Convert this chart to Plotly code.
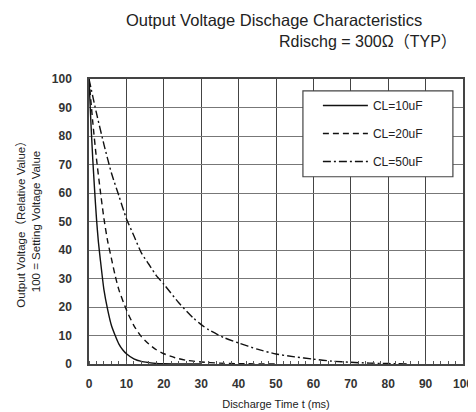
import plotly.graph_objects as go

# ---- data ----
t_10uF = [0, 0.5, 1, 1.5, 2, 2.5, 3, 4, 5, 6, 7, 8, 9, 10, 12, 14, 16, 18, 20, 25, 30]
v_10uF = [100, 85, 72, 61, 51, 43, 37, 26, 19, 13.5, 10, 7, 5, 3.6, 1.8, 0.9, 0.5, 0.2, 0.1, 0, 0]

t_20uF = [0, 1, 2, 3, 4, 5, 6, 7, 8, 10, 12, 14, 16, 18, 20, 23, 26, 30, 35, 40, 50]
v_20uF = [100, 85, 72, 61, 51, 43, 37, 31, 26, 19, 13.5, 9.6, 7, 5, 3.6, 2.2, 1.3, 0.7, 0.3, 0.1, 0]

t_50uF = [0, 2, 4, 6, 8, 10, 12, 14, 16, 18, 20, 24, 28, 30, 32, 36, 40, 45, 50, 55, 60, 65, 70, 75, 80, 85]
v_50uF = [100, 88, 77, 67, 59, 51, 45, 39, 35, 31, 28, 21.5, 16, 13.8, 12, 9.3, 7.4, 5.2, 3.5, 2.5, 1.7, 1.0, 0.6, 0.3, 0.15, 0]

series_names = ["CL=10uF", "CL=20uF", "CL=50uF"]
series_dash = ["solid", "6px,4px", "8px,3px,2px,3px"]

x_ticks = list(range(0, 101, 10))
y_ticks = list(range(0, 101, 10))

title_line1 = "Output Voltage Dischage Characteristics"
title_line2 = "Rdischg = 300Ω（TYP）"
x_title = "Discharge Time t (ms)"
y_title = "Output Voltage（Relative Value）<br>100 = Setting Voltage Value"

FONT = "Liberation Sans, Arial, Noto Sans CJK JP, sans-serif"

fig = go.Figure()
for i, (tx, vy) in enumerate([(t_10uF, v_10uF), (t_20uF, v_20uF), (t_50uF, v_50uF)]):
    fig.add_trace(go.Scatter(
        x=tx, y=vy, mode="lines", name=series_names[i], legendgroup=str(i),
        line=dict(color="#111111", width=1.4, dash=series_dash[i], shape="spline", smoothing=0.6),
    ))

# the page has an 8px body margin, so the figure is 8px smaller than the window
fig.update_layout(
    width=468, height=404,
    margin=dict(l=81, r=13, t=71, b=47.5),
    paper_bgcolor="white", plot_bgcolor="white",
    font=dict(family=FONT, color="#222222"),
    showlegend=True,
    legend=dict(
        x=0.612, y=0.958, xanchor="left", yanchor="top",
        bgcolor="rgba(0,0,0,0)", borderwidth=0,
        font=dict(size=12, family=FONT, color="#222222"),
        itemwidth=45, tracegroupgap=9, traceorder="grouped",
    ),
    shapes=[dict(
        type="rect", xref="paper", yref="paper",
        x0=0.572, x1=0.973, y0=0.657, y1=0.958,
        line=dict(color="#444444", width=1.2), fillcolor="white", layer="above",
    )],
    annotations=[
        dict(text=title_line1, xref="paper", yref="paper", x=0.495, y=1.207,
             xanchor="center", yanchor="middle", showarrow=False,
             font=dict(size=16.5, family=FONT, color="#222222")),
        dict(text=title_line2, xref="paper", yref="paper", x=0.99, y=1.13,
             xanchor="right", yanchor="middle", showarrow=False,
             font=dict(size=16, family=FONT, color="#222222")),
    ],
)

fig.update_xaxes(
    range=[0, 100], tickvals=x_ticks, ticks="", showgrid=True,
    gridcolor="#444444", gridwidth=1.2,
    showline=True, linecolor="#444444", linewidth=1.5, mirror=True,
    tickfont=dict(size=12, family=FONT, color="#333333", weight="bold"),
    ticklabelstandoff=8,
    minor=dict(dtick=2, ticks="inside", ticklen=3, tickcolor="#555555", showgrid=False),
    title=dict(text=x_title, font=dict(size=11, family=FONT, color="#222222"), standoff=10),
    zeroline=False, fixedrange=True, automargin=False,
)
fig.update_yaxes(
    range=[0, 100], tickvals=y_ticks, ticks="", showgrid=True,
    gridcolor="#777777", gridwidth=1.2,
    showline=True, linecolor="#444444", linewidth=1.5, mirror=True,
    tickfont=dict(size=12, family=FONT, color="#333333", weight="bold"),
    ticklabelstandoff=13,
    title=dict(text=y_title, font=dict(size=11.5, family=FONT, color="#222222"), standoff=9),
    zeroline=False, fixedrange=True, automargin=False,
)

fig.write_html(
    "out.html",
    post_script="document.documentElement.style.overflow='hidden';document.body.style.overflow='hidden';",
)
